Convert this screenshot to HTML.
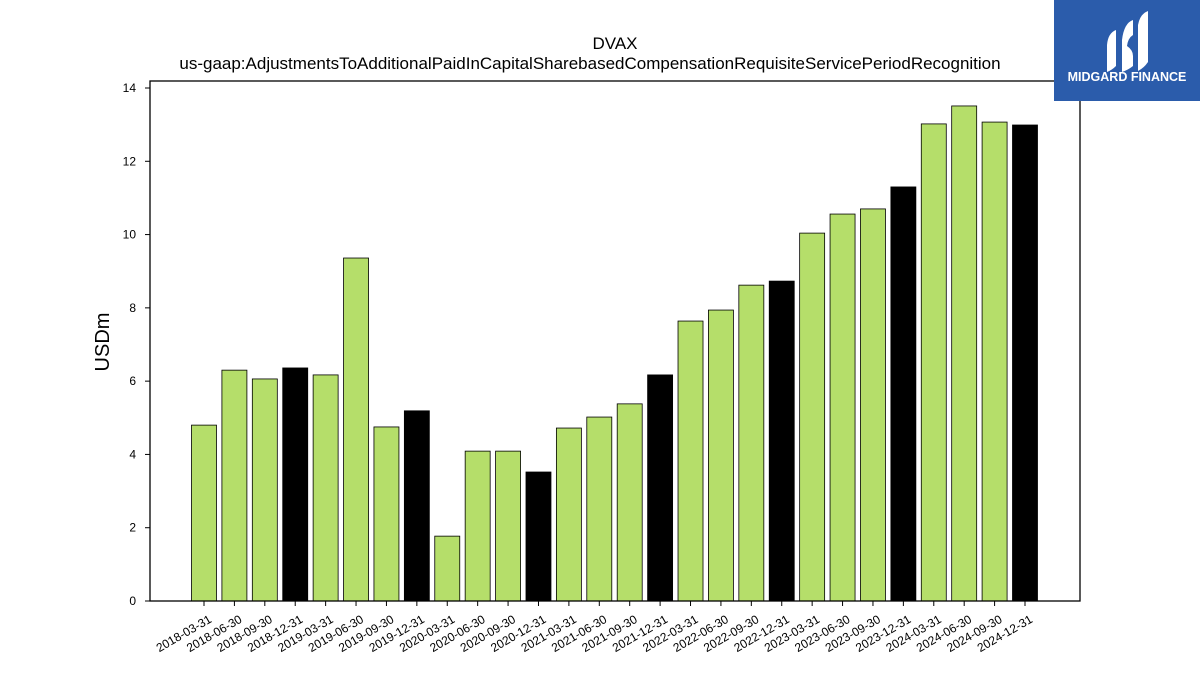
<!DOCTYPE html>
<html><head><meta charset="utf-8"><style>
body{margin:0;background:#fff;}
svg text{font-family:"Liberation Sans","DejaVu Sans",sans-serif;}
</style></head><body>
<svg id="chart" width="1200" height="675" xmlns="http://www.w3.org/2000/svg">
<text x="615" y="49" text-anchor="middle" font-size="17">DVAX</text>
<text x="590" y="69" text-anchor="middle" font-size="17">us-gaap:AdjustmentsToAdditionalPaidInCapitalSharebasedCompensationRequisiteServicePeriodRecognition</text>
<text transform="translate(109,342) rotate(-90)" text-anchor="middle" font-size="20">USDm</text>
<g id="bars"></g>
<g id="yticks"></g>
<g id="xticks"></g>
<rect x="150" y="81" width="930" height="520" fill="none" stroke="#000" stroke-width="1.3"/>
<g>
<rect x="1054" y="0" width="146" height="101" fill="#2b5cab"/>
<path d="M1107 45 Q1108 33 1116 30 L1116 66 Q1112 70 1107 72 Z" fill="#fff"/>
<path d="M1122 40 Q1124 23 1133 20 L1133 35 Q1128 38 1127 46 Q1133 50 1133 56 L1133 66 Q1128 70 1122 72 Q1122 50 1122 40 Z" fill="#fff"/>
<path d="M1138 25 Q1140 14 1148 11 L1148 62 Q1144 68 1138 71 Z" fill="#fff"/>
<text x="1127" y="81" text-anchor="middle" font-size="12.5" font-weight="bold" fill="#fff">MIDGARD FINANCE</text>
</g>
</svg>
<script>
const categories=["2018-03-31","2018-06-30","2018-09-30","2018-12-31","2019-03-31","2019-06-30","2019-09-30","2019-12-31","2020-03-31","2020-06-30","2020-09-30","2020-12-31","2021-03-31","2021-06-30","2021-09-30","2021-12-31","2022-03-31","2022-06-30","2022-09-30","2022-12-31","2023-03-31","2023-06-30","2023-09-30","2023-12-31","2024-03-31","2024-06-30","2024-09-30","2024-12-31"];
const values=[4.80,6.30,6.06,6.36,6.17,9.36,4.75,5.19,1.77,4.09,4.09,3.52,4.72,5.02,5.38,6.17,7.64,7.94,8.62,8.73,10.04,10.56,10.70,11.30,13.02,13.51,13.07,12.99];
const yTicks=[0,2,4,6,8,10,12,14];
const NS="http://www.w3.org/2000/svg";
const yScale=v=>601-v*(513/14);
const xScale=i=>204+i*((1025-204)/(categories.length-1));
const bw=25;
const bars=document.getElementById('bars'),xt=document.getElementById('xticks'),yt=document.getElementById('yticks');
categories.forEach((c,i)=>{
 const r=document.createElementNS(NS,'rect');
 const y=yScale(values[i]);
 r.setAttribute('x',xScale(i)-bw/2);r.setAttribute('y',y);r.setAttribute('width',bw);r.setAttribute('height',601-y);
 r.setAttribute('fill',c.endsWith('12-31')?'#000':'#b5de6a');r.setAttribute('stroke','#000');r.setAttribute('stroke-width','0.8');
 
 
 bars.appendChild(r);
 const l=document.createElementNS(NS,'line');
 l.setAttribute('x1',xScale(i));l.setAttribute('x2',xScale(i));l.setAttribute('y1',601);l.setAttribute('y2',606);l.setAttribute('stroke','#000');
 
 
 xt.appendChild(l);
 const t=document.createElementNS(NS,'text');
 t.setAttribute('transform','translate('+(xScale(i)+4)+',614) rotate(-30)');
 t.setAttribute('text-anchor','end');t.setAttribute('font-size','12');t.setAttribute('dominant-baseline','hanging');
 t.textContent=c;
 
 
 xt.appendChild(t);
});
yTicks.forEach(v=>{
 const l=document.createElementNS(NS,'line');
 l.setAttribute('x1',145);l.setAttribute('x2',150);l.setAttribute('y1',yScale(v));l.setAttribute('y2',yScale(v));l.setAttribute('stroke','#000');
 
 
 yt.appendChild(l);
 const t=document.createElementNS(NS,'text');
 t.setAttribute('x',136);t.setAttribute('y',yScale(v)+4);t.setAttribute('text-anchor','end');t.setAttribute('font-size','12');
 t.textContent=v;
 
 
 yt.appendChild(t);
});
</script>
</body></html>
